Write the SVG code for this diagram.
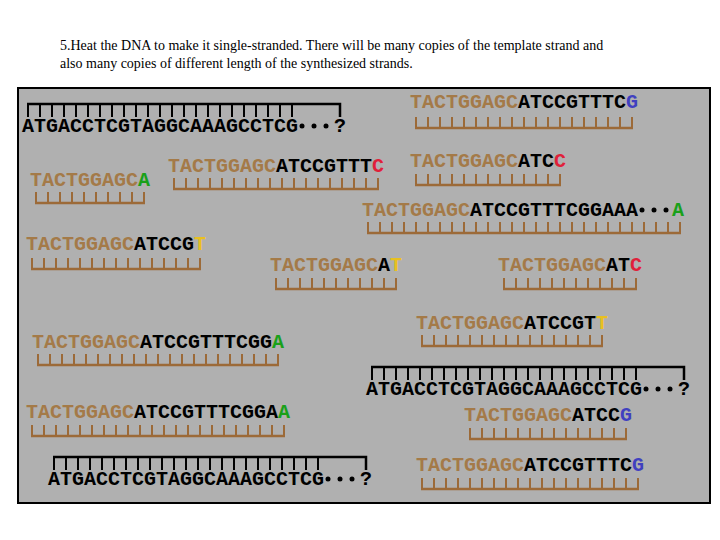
<svg xmlns="http://www.w3.org/2000/svg" width="720" height="540" viewBox="0 0 720 540">
<style>
.s{font-family:'Liberation Mono','Cousine','Nimbus Mono PS','FreeMono','Courier New',monospace;font-size:20px;font-weight:bold;fill:#000}
.b{fill:#a47a48}.g{fill:#1aa01a}.r{fill:#e0203a}.y{fill:#e8c020}.u{fill:#4040c0}
.bt{stroke:#9c6a38;stroke-width:11;stroke-dasharray:2 10;fill:none}
.bl{stroke:#9c6a38;stroke-width:2.5;fill:none}
.kt{stroke:#000;stroke-width:14;stroke-dasharray:2 10;fill:none}
.kl{stroke:#000;stroke-width:2.5;fill:none}
.h{font-family:'Liberation Serif','Times New Roman',serif;font-size:14px;fill:#000}
</style>
<rect width="720" height="540" fill="#fff"/>
<text class="h" x="60" y="50">5.Heat the DNA to make it single-stranded. There will be many copies of the template strand and</text>
<text class="h" x="60" y="68">also many copies of different length of the synthesized strands.</text>
<rect x="18" y="88" width="692" height="415" fill="#b0b0b0" stroke="#000" stroke-width="2"/>
<g id="template1">
<line class="kt" x1="27" y1="110" x2="303" y2="110"/>
<path class="kl" d="M27 104H340V117"/>
<text class="s" x="22" y="132">ATGACCTCGTAGGCAAAGCCTCG</text>
<circle cx="302" cy="126" r="2.5"/><circle cx="314" cy="126" r="2.5"/><circle cx="326" cy="126" r="2.5"/>
<text class="s" x="334" y="132">?</text>
</g>
<g id="template2">
<line class="kt" x1="371" y1="373" x2="647" y2="373"/>
<path class="kl" d="M371 367H684V380"/>
<text class="s" x="366" y="395">ATGACCTCGTAGGCAAAGCCTCG</text>
<circle cx="646" cy="389" r="2.5"/><circle cx="658" cy="389" r="2.5"/><circle cx="670" cy="389" r="2.5"/>
<text class="s" x="678" y="395">?</text>
</g>
<g id="template3">
<line class="kt" x1="53" y1="463" x2="329" y2="463"/>
<path class="kl" d="M53 457H366V470"/>
<text class="s" x="48" y="485">ATGACCTCGTAGGCAAAGCCTCG</text>
<circle cx="328" cy="479" r="2.5"/><circle cx="340" cy="479" r="2.5"/><circle cx="352" cy="479" r="2.5"/>
<text class="s" x="360" y="485">?</text>
</g>
<g id="s1"><text class="s" x="410" y="108"><tspan class="b">TACTGGAGC</tspan>ATCCGTTTC<tspan class="u">G</tspan></text>
<line class="bt" x1="415" y1="122.5" x2="633" y2="122.5"/><path class="bl" d="M415 128H633"/></g>
<g id="s2"><text class="s" x="30" y="186"><tspan class="b">TACTGGAGC</tspan><tspan class="g">A</tspan></text>
<line class="bt" x1="35" y1="197.5" x2="145" y2="197.5"/><path class="bl" d="M35 203H145"/></g>
<g id="s3"><text class="s" x="168" y="172"><tspan class="b">TACTGGAGC</tspan>ATCCGTTT<tspan class="r">C</tspan></text>
<line class="bt" x1="173" y1="183.5" x2="379" y2="183.5"/><path class="bl" d="M173 189H379"/></g>
<g id="s4"><text class="s" x="410" y="167"><tspan class="b">TACTGGAGC</tspan>ATC<tspan class="r">C</tspan></text>
<line class="bt" x1="415" y1="179.5" x2="561" y2="179.5"/><path class="bl" d="M415 185H561"/></g>
<g id="s5"><text class="s" x="362" y="216"><tspan class="b">TACTGGAGC</tspan>ATCCGTTTCGGAAA</text>
<circle cx="642" cy="210" r="2.5"/><circle cx="654" cy="210" r="2.5"/><circle cx="666" cy="210" r="2.5"/>
<text class="s g" x="672" y="216">A</text>
<line class="bt" x1="367" y1="227.5" x2="681" y2="227.5"/><path class="bl" d="M367 233H681"/></g>
<g id="s6"><text class="s" x="26" y="250"><tspan class="b">TACTGGAGC</tspan>ATCCG<tspan class="y">T</tspan></text>
<line class="bt" x1="31" y1="263.5" x2="201" y2="263.5"/><path class="bl" d="M31 269H201"/></g>
<g id="s7"><text class="s" x="270" y="271"><tspan class="b">TACTGGAGC</tspan>A<tspan class="y">T</tspan></text>
<line class="bt" x1="275" y1="283.5" x2="397" y2="283.5"/><path class="bl" d="M275 289H397"/></g>
<g id="s8"><text class="s" x="498" y="271"><tspan class="b">TACTGGAGC</tspan>AT<tspan class="r">C</tspan></text>
<line class="bt" x1="503" y1="283.5" x2="637" y2="283.5"/><path class="bl" d="M503 289H637"/></g>
<g id="s9"><text class="s" x="416" y="329"><tspan class="b">TACTGGAGC</tspan>ATCCGT<tspan class="y">T</tspan></text>
<line class="bt" x1="421" y1="340.5" x2="603" y2="340.5"/><path class="bl" d="M421 346H603"/></g>
<g id="s10"><text class="s" x="32" y="348"><tspan class="b">TACTGGAGC</tspan>ATCCGTTTCGG<tspan class="g">A</tspan></text>
<line class="bt" x1="37" y1="359.5" x2="279" y2="359.5"/><path class="bl" d="M37 365H279"/></g>
<g id="s11"><text class="s" x="26" y="418"><tspan class="b">TACTGGAGC</tspan>ATCCGTTTCGGA<tspan class="g">A</tspan></text>
<line class="bt" x1="31" y1="430.5" x2="285" y2="430.5"/><path class="bl" d="M31 436H285"/></g>
<g id="s12"><text class="s" x="464" y="421"><tspan class="b">TACTGGAGC</tspan>ATCC<tspan class="u">G</tspan></text>
<line class="bt" x1="469" y1="433.5" x2="627" y2="433.5"/><path class="bl" d="M469 439H627"/></g>
<g id="s13"><text class="s" x="416" y="471"><tspan class="b">TACTGGAGC</tspan>ATCCGTTTC<tspan class="u">G</tspan></text>
<line class="bt" x1="421" y1="483.5" x2="639" y2="483.5"/><path class="bl" d="M421 489H639"/></g>
<g id="connectors"/>
</svg>
